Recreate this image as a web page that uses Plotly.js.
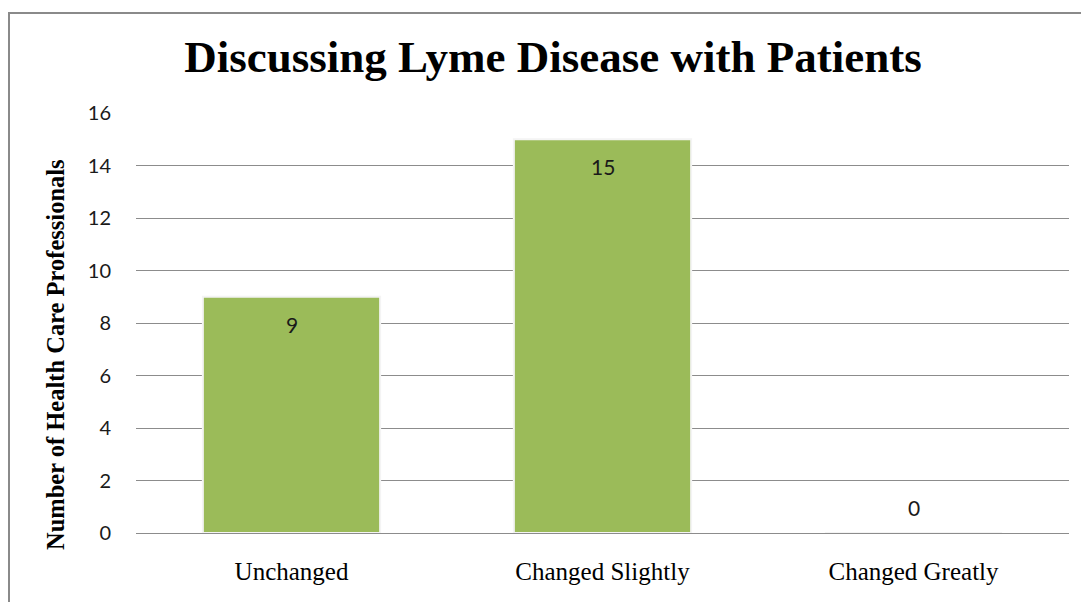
<!DOCTYPE html>
<html>
<head>
<meta charset="utf-8">
<script src="https://cdn.plot.ly/plotly-3.0.1.min.js"></script>
<style>
  html, body { margin: 0; padding: 0; background: #fff; }
  #wrap { position: relative; width: 1081px; height: 602px; }
  #chart { position: absolute; left: 0; top: 0; width: 1081px; height: 602px; }
  #frame { position: absolute; left: 8px; top: 12px; right: 0; bottom: 0;
           border-left: 2px solid #8a8a8a; border-top: 2px solid #8a8a8a; pointer-events: none; }
</style>
</head>
<body>
<div id="wrap">
  <div id="chart"></div>
  <div id="frame"></div>
</div>
<script>
const categories = ["Unchanged", "Changed Slightly", "Changed Greatly"];
const counts = [9, 15, 0];
const yTicks = [0, 2, 4, 6, 8, 10, 12, 14, 16];

const chartTitle = "Discussing Lyme Disease with Patients";
const yTitle = "Number of Health Care Professionals";

const serif = "Liberation Serif, Times New Roman, serif";
const sans = "Lato, Open Sans, sans-serif";

const trace = {
  type: "bar",
  x: categories,
  y: counts,
  width: 0.57,
  marker: { color: "#9BBB59", line: { color: "#f4f4f4", width: 2 } },
  hoverinfo: "none"
};

const labelAnnotations = categories.map((c, i) => ({
  x: c, y: counts[i], xref: "x", yref: "y",
  text: String(counts[i]),
  showarrow: false,
  yanchor: counts[i] > 0 ? "top" : "bottom",
  yshift: counts[i] > 0 ? -13 : 11,
  font: { family: sans, size: 21, color: "#1a1a1a" }
}));

const layout = {
  width: 1081, height: 602,
  margin: { l: 136, r: 12, t: 113, b: 69 },
  paper_bgcolor: "#ffffff",
  plot_bgcolor: "#ffffff",
  showlegend: false,
  title: {
    text: "<b>" + chartTitle + "</b>",
    font: { family: serif, size: 45, color: "#000" },
    x: 553 / 1081, xref: "container", xanchor: "center",
    y: 1 - 56 / 602, yref: "container", yanchor: "middle"
  },
  xaxis: {
    type: "category",
    showgrid: false,
    showline: false,
    zeroline: false,
    ticks: "outside", ticklen: 16, tickcolor: "rgba(0,0,0,0)",
    tickfont: { family: serif, size: 25, color: "#000" }
  },
  yaxis: {
    range: [0, 16],
    tickvals: yTicks,
    ticktext: yTicks.map(String),
    showgrid: true, gridcolor: "#8c8c8c", gridwidth: 1,
    zeroline: true, zerolinecolor: "#8c8c8c", zerolinewidth: 1,
    showline: false,
    ticks: "outside", ticklen: 20, tickcolor: "rgba(0,0,0,0)",
    tickfont: { family: sans, size: 20, color: "#1a1a1a" }
  },
  annotations: labelAnnotations.concat([{
    text: "<b>" + yTitle + "</b>",
    xref: "paper", yref: "paper",
    x: (55 - 136) / 933, y: (533 - 355) / 420,
    xanchor: "center", yanchor: "middle",
    textangle: -90, showarrow: false,
    font: { family: serif, size: 24.5, color: "#000" }
  }])
};

Plotly.newPlot("chart", [trace], layout, { displayModeBar: false, staticPlot: true });
</script>
</body>
</html>
